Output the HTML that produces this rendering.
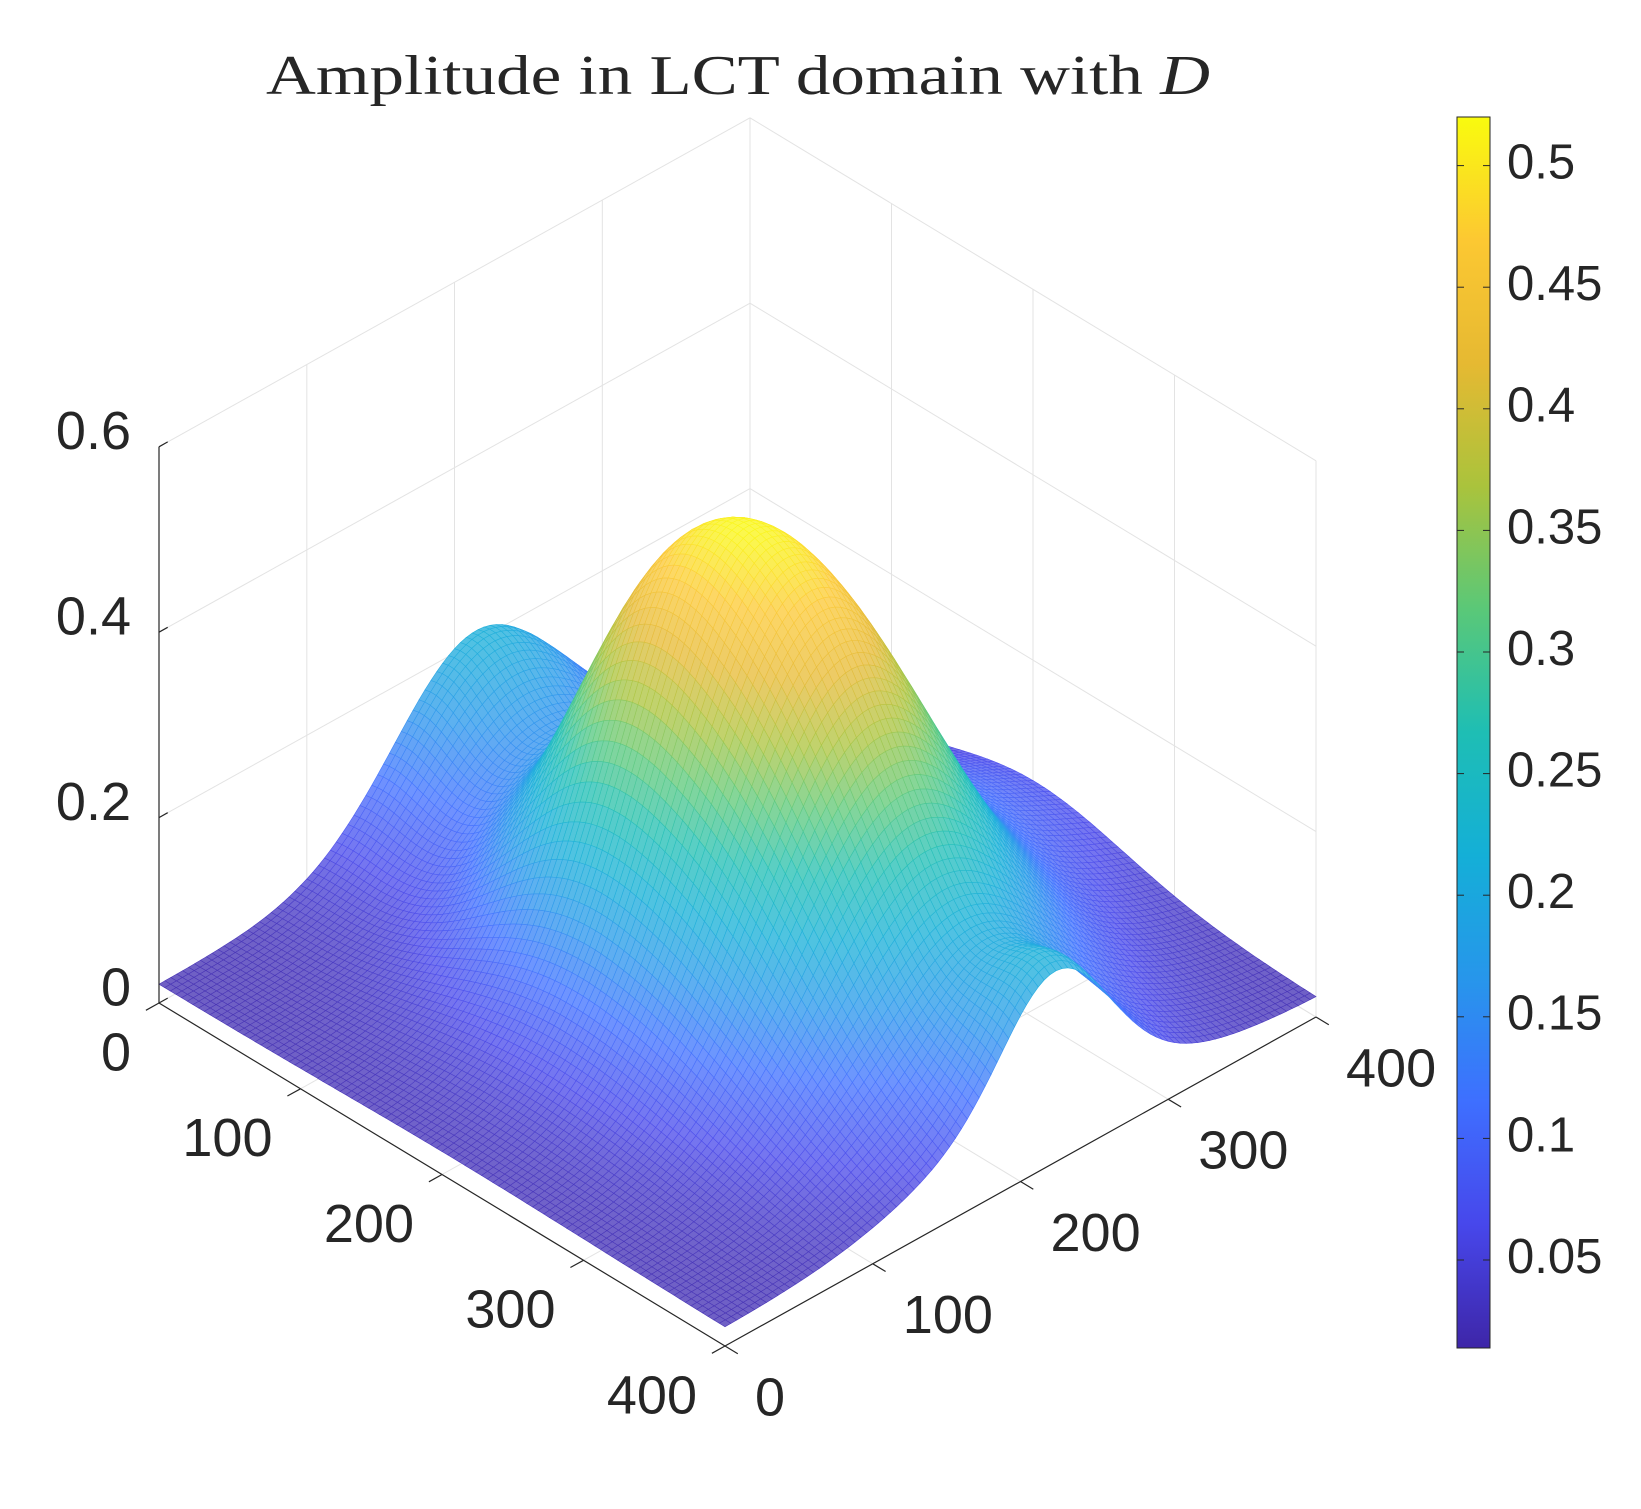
<!DOCTYPE html>
<html><head><meta charset="utf-8"><style>
html,body{margin:0;padding:0;background:#fff;}
svg{display:block;}
text{font-family:"Liberation Sans",Arial,sans-serif;fill:#262626;}
</style></head><body>
<svg id="chart" width="1641" height="1509" viewBox="0 0 1641 1509" xmlns="http://www.w3.org/2000/svg">
<defs>
<linearGradient id="cmapGrad" x1="0" y1="1" x2="0" y2="0">
<stop offset="0" stop-color="rgb(62,38,168)"/><stop offset="0.1" stop-color="rgb(71,71,235)"/><stop offset="0.2" stop-color="rgb(62,111,255)"/><stop offset="0.3" stop-color="rgb(39,150,235)"/><stop offset="0.4" stop-color="rgb(20,175,215)"/><stop offset="0.5" stop-color="rgb(30,190,180)"/><stop offset="0.6" stop-color="rgb(90,200,120)"/><stop offset="0.7" stop-color="rgb(170,195,60)"/><stop offset="0.8" stop-color="rgb(230,185,50)"/><stop offset="0.9" stop-color="rgb(252,200,50)"/><stop offset="1" stop-color="rgb(249,251,14)"/>
</linearGradient>
</defs>
<text x="738" y="94" text-anchor="middle" font-size="56" textLength="944" lengthAdjust="spacingAndGlyphs" style="font-family:'Liberation Serif',serif">Amplitude in LCT domain with <tspan font-style="italic">D</tspan></text>
<g id="grid"></g>
<g id="surf"></g>
<g id="axes"></g>
<g id="cbar"></g>
</svg>
<script>
// axis ranges and ticks
const uTicks = [0, 100, 200, 300, 400];
const vTicks = [0, 100, 200, 300, 400];
const zTicks = [0, 0.2, 0.4, 0.6];
const zTickLabels = ["0", "0.2", "0.4", "0.6"];
const cbarTicks = [0.05, 0.1, 0.15, 0.2, 0.25, 0.3, 0.35, 0.4, 0.45, 0.5];
const cbarTickLabels = ["0.05", "0.1", "0.15", "0.2", "0.25", "0.3", "0.35", "0.4", "0.45", "0.5"];
const clim = [0.0138, 0.52];
// surface components: centers, amplitudes, widths
const peakU = [212, 0, 400, 200, 150];
const peakV = [212, 215, 225, 385, 175];
const peakAmp = [0.475, 0.17, 0.12, 0.04, 0.08];
const sigUneg = [85, 35, 28, 60, 40];
const sigUpos = [95, 35, 28, 60, 40];
const sigVneg = [70, 55, 35, 40, 40];
const sigVpos = [70, 55, 35, 40, 40];
const baseLevel = [0.02];

const NS = "http://www.w3.org/2000/svg";
const L = [159, 1003], F = [725, 1346], R = [1316, 1017];
const du = [(F[0]-L[0])/400, (F[1]-L[1])/400];
const dv = [(R[0]-F[0])/400, (R[1]-F[1])/400];
const ZS = 927;
function P(u, v, z) { return [L[0]+u*du[0]+v*dv[0], L[1]+u*du[1]+v*dv[1]-z*ZS]; }
function mk(tag, attrs, parent) { const e = document.createElementNS(NS, tag); for (const k in attrs) e.setAttribute(k, attrs[k]); parent.appendChild(e); return e; }
function line(p, q, color, w, parent) { return mk('line', {x1:p[0].toFixed(1), y1:p[1].toFixed(1), x2:q[0].toFixed(1), y2:q[1].toFixed(1), stroke:color, 'stroke-width':w}, parent); }

function Z(u, v) {
  let z = baseLevel[0];
  for (let k = 0; k < peakU.length; k++) {
    const su = u < peakU[k] ? sigUneg[k] : sigUpos[k];
    const sv = v < peakV[k] ? sigVneg[k] : sigVpos[k];
    const a = (u-peakU[k])/su, b = (v-peakV[k])/sv;
    z += peakAmp[k]*Math.exp(-(a*a+b*b)/2);
  }
  return z;
}
const stops = [[62,38,168],[71,71,235],[62,111,255],[39,150,235],[20,175,215],[30,190,180],[90,200,120],[170,195,60],[230,185,50],[252,200,50],[249,251,14]];
function cmap(t) {
  const n = stops.length - 1;
  t = Math.max(0, Math.min(1, t)) * n; const i = Math.min(n-1, Math.floor(t)), f = t - i;
  return stops[i].map((c, k) => c + (stops[i+1][k]-c)*f);
}
function rgb(c, w) { return 'rgb(' + c.map(x => Math.round(x + (255-x)*w)).join(',') + ')'; }

// grid
const g = document.getElementById('grid');
const gc = '#e3e3e3';
for (const v of vTicks) { const el = line(P(0,v,0), P(0,v,0.6), gc, 1, g);   }
for (const u of uTicks) { const el = line(P(u,400,0), P(u,400,0.6), gc, 1, g);   }
for (const z of zTicks) {
  const a = line(P(0,0,z), P(0,400,z), gc, 1, g);  
  const b = line(P(0,400,z), P(400,400,z), gc, 1, g);  
}
for (const u of uTicks) { const el = line(P(u,0,0), P(u,400,0), gc, 1, g);   }
for (const v of vTicks) { const el = line(P(0,v,0), P(400,v,0), gc, 1, g);   }

// surface
const s = document.getElementById('surf');
const N = 100, h = 400/N;
const zz = [];
for (let i = 0; i <= N; i++) { zz.push([]); for (let j = 0; j <= N; j++) zz[i].push(Z(i*h, j*h)); }
const quads = [];
for (let i = 0; i < N; i++) for (let j = 0; j < N; j++) quads.push([i, j]);
quads.sort((a, b) => (a[0]-a[1]) - (b[0]-b[1]));
const frag = document.createDocumentFragment();
for (const [i, j] of quads) {
  const p = [P(i*h,j*h,zz[i][j]), P((i+1)*h,j*h,zz[i+1][j]), P((i+1)*h,(j+1)*h,zz[i+1][j+1]), P(i*h,(j+1)*h,zz[i][j+1])];
  const zm = (zz[i][j]+zz[i+1][j]+zz[i+1][j+1]+zz[i][j+1])/4;
  const c = cmap((zm-clim[0])/(clim[1]-clim[0]));
  const el = document.createElementNS(NS, 'polygon');
  el.setAttribute('points', p.map(q => q[0].toFixed(1)+','+q[1].toFixed(1)).join(' '));
  el.setAttribute('fill', rgb(c, 0.25));
  el.setAttribute('stroke', rgb(c, 0.05));
  el.setAttribute('stroke-width', '0.6');
  
  
  frag.appendChild(el);
}
s.appendChild(frag);

// axes
const ax = document.getElementById('axes');
const dk = '#262626';
line(P(0,0,0), P(0,0,0.6), dk, 1.2, ax);
line(P(0,0,0), P(400,0,0), dk, 1.2, ax);
line(P(400,0,0), P(400,400,0), dk, 1.2, ax);
const nv = Math.hypot(dv[0], dv[1]), nu = Math.hypot(du[0], du[1]);
uTicks.forEach(u => {
  const p = P(u,0,0);
  const t = line(p, [p[0]-dv[0]/nv*15, p[1]-dv[1]/nv*15], dk, 1.2, ax);
   
  const tx = mk('text', {x:(p[0]-28).toFixed(1), y:(p[1]+53).toFixed(1), 'font-size':54, 'text-anchor':'end', 'dominant-baseline':'middle'}, ax);
  tx.textContent = String(u);
   
});
vTicks.forEach(v => {
  const p = P(400,v,0);
  const t = line(p, [p[0]+du[0]/nu*15, p[1]+du[1]/nu*15], dk, 1.2, ax);
   
  const tx = mk('text', {x:(p[0]+30).toFixed(1), y:(p[1]+55).toFixed(1), 'font-size':54, 'text-anchor':'start', 'dominant-baseline':'middle'}, ax);
  tx.textContent = String(v);
   
});
zTicks.forEach((z, k) => {
  const p = P(0,0,z);
  const t = line(p, [p[0]+dv[0]/nv*10, p[1]+dv[1]/nv*10], dk, 1.2, ax);
   
  const tx = mk('text', {x:131, y:(p[1]-12).toFixed(1), 'font-size':54, 'text-anchor':'end', 'dominant-baseline':'middle'}, ax);
  tx.textContent = zTickLabels[k];
   
});

// colorbar
const cb = document.getElementById('cbar');
const cbX = 1457, cbW = 33, cbTop = 117, cbBot = 1348;
function cy(val) { return cbBot - (val-clim[0])/(clim[1]-clim[0])*(cbBot-cbTop); }
const r = mk('rect', {x:cbX, y:cbTop, width:cbW, height:cbBot-cbTop, fill:'url(#cmapGrad)', stroke:dk, 'stroke-width':1}, cb);
 
cbarTicks.forEach((val, k) => {
  const y = cy(val);
  line([cbX, y], [cbX+7, y], dk, 1, cb);
  line([cbX+cbW-7, y], [cbX+cbW, y], dk, 1, cb);
  const tx = mk('text', {x:1507, y:y.toFixed(1), 'font-size':49, 'dominant-baseline':'middle'}, cb);
  tx.textContent = cbarTickLabels[k];
   
});
</script>
</body></html>
